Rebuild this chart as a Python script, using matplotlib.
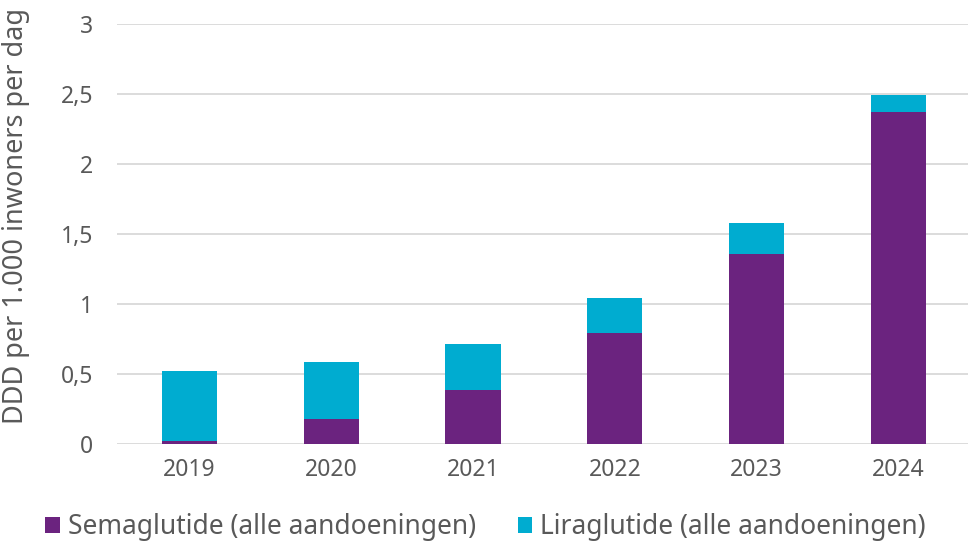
import matplotlib.pyplot as plt
import numpy as np

years = ["2019", "2020", "2021", "2022", "2023", "2024"]
semaglutide = [0.025, 0.178, 0.386, 0.79, 1.357, 2.37]
liraglutide = [0.499, 0.41, 0.328, 0.255, 0.219, 0.12]
yticks = [0, 0.5, 1, 1.5, 2, 2.5, 3]
ytick_labels = ["0", "0,5", "1", "1,5", "2", "2,5", "3"]

plt.rcParams['font.family'] = ['Noto Sans', 'DejaVu Sans']
txt = '#595959'
fig = plt.figure(figsize=(9.71, 5.45), dpi=100)
ax = fig.add_axes([117/971, 1-444/545, (968-117)/971, (444-24)/545])
x = np.arange(len(years)) + 0.01
ax.bar(x, semaglutide, width=0.39, color='#6B237F', label='Semaglutide (alle aandoeningen)', zorder=3)
ax.bar(x, liraglutide, width=0.39, bottom=semaglutide, color='#00ACD0', label='Liraglutide (alle aandoeningen)', zorder=3)
ax.set_xlim(-0.5, len(years)-0.5)
ax.set_ylim(0, 3)
ax.set_yticks(yticks)
ax.set_yticklabels(ytick_labels)
ax.set_xticks(x)
ax.set_xticklabels(years)
ax.grid(axis='y', color='#D9D9D9', linewidth=1.3, zorder=0)
ax.set_axisbelow(True)
for s in ax.spines.values():
    s.set_visible(False)
ax.tick_params(axis='both', length=0, colors=txt, labelsize=16.5)
ax.tick_params(axis='y', pad=17)
ax.tick_params(axis='x', pad=10)
ax.set_ylabel('DDD per 1.000 inwoners per dag', color=txt, fontsize=19.5)
ax.yaxis.set_label_coords(-0.102, 0.543)
fig.legend(loc='center', bbox_to_anchor=(0.5, 1-527/545), ncol=2, frameon=False,
           fontsize=19, labelcolor=txt, handlelength=0.55, handleheight=0.55,
           handletextpad=0.3, columnspacing=1.6)
fig.savefig('out.png', dpi=100)
